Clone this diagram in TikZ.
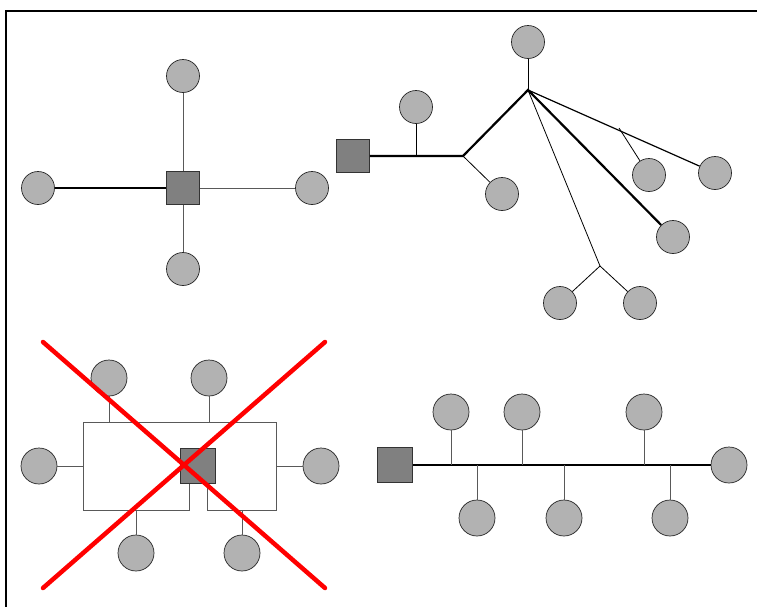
\documentclass[tikz,border=0pt]{standalone}
\begin{document}
\begin{tikzpicture}[x=1pt,y=-1pt,
  pcs/.style={circle,draw=black!85,line width=0.7pt,fill=gray!60,inner sep=0pt,minimum size=33pt},
  pcl/.style={pcs,minimum size=36pt},
  hubs/.style={rectangle,draw=black!80,line width=0.7pt,fill=gray,inner sep=0pt,minimum size=33pt},
  hubl/.style={hubs,minimum size=35pt},
  thin/.style={line width=0.8pt,draw=black!65},
  thinb/.style={line width=0.8pt,draw=black},
  mid/.style={line width=1.2pt,draw=black},
  thick/.style={line width=2.2pt,draw=black},
  cross/.style={line width=4.5pt,draw=red,line cap=round}]
\useasboundingbox (0,0) rectangle (757,606);
\draw[line width=1.6pt] (6,640) -- (6,11) -- (800,11);

% ---- top-left star
\node[hubs] (A) at (183,188) {};
\node[pcs] (A1) at (183,76) {};
\node[pcs] (A2) at (38,188) {};
\node[pcs] (A3) at (312,188) {};
\node[pcs] (A4) at (183,269) {};
\draw[thick] (A2) -- (A);
\draw[thin] (A) -- (A1);
\draw[thin] (A) -- (A3);
\draw[thin] (A) -- (A4);

% ---- top-right tree
\node[hubs] (B) at (353,156) {};
\coordinate (Bj2) at (463,156);
\coordinate (Bh) at (528,90);
\coordinate (Bj3) at (619,128);
\coordinate (Bj4) at (600,266);
\node[pcs] (B1) at (416,107) {};
\node[pcs] (B2) at (502,194) {};
\node[pcs] (B3) at (528,42) {};
\node[pcs] (B4) at (715,173) {};
\node[pcs] (B5) at (649,175) {};
\node[pcs] (B6) at (673,237) {};
\node[pcs] (B7) at (560,303) {};
\node[pcs] (B8) at (640,303) {};
\coordinate (Bj1) at (B1 |- B);
\draw[thick] (B) -- (Bj2) -- (Bh) -- (B6);
\draw[thinb] (Bj1) -- (B1);
\draw[thinb] (Bj2) -- (B2);
\draw[thinb] (Bh) -- (B3);
\draw[mid] (Bh) -- (B4);
\draw[thinb] (Bj3) -- (B5);
\draw[thinb] (Bh) -- (Bj4);
\draw[thinb] (Bj4) -- (B7);
\draw[thinb] (Bj4) -- (B8);

% ---- bottom-left ring
\node[hubl] (C) at (197.5,466) {};
\node[pcl] (C1) at (109,378) {};
\node[pcl] (C2) at (209,378) {};
\node[pcl] (C3) at (39,466) {};
\node[pcl] (C4) at (321,466) {};
\node[pcl] (C5) at (136,553) {};
\node[pcl] (C6) at (242,553) {};
\coordinate (Ca) at (189,483.5);
\coordinate (Cb) at (189,510);
\coordinate (Cc) at (83.5,510);
\coordinate (Cd) at (83.5,422);
\coordinate (Ce) at (276.5,422);
\coordinate (Cf) at (276.5,510);
\coordinate (Cg) at (207,510);
\coordinate (Ch) at (207,483.5);
\draw[thin] (Ca) -- (Cb) -- (Cc) -- (Cd) -- (Ce) -- (Cf) -- (Cg) -- (Ch);
\draw[thin] (C1) -- (C1 |- Cd);
\draw[thin] (C2) -- (C2 |- Cd);
\draw[thin] (C3) -- (C3 -| Cd);
\draw[thin] (C4) -- (C4 -| Ce);
\draw[thin] (C5) -- (C5 |- Cb);
\draw[thin] (C6) -- (C6 |- Cb);
\coordinate (X1) at (43,342);
\coordinate (X2) at (325,588);
\coordinate (X3) at (325,342);
\coordinate (X4) at (43,588);
\draw[cross] (X1) -- (X2);
\draw[cross] (X3) -- (X4);

% ---- bottom-right bus
\node[hubl] (D) at (395,465) {};
\node[pcl] (D0) at (729,465) {};
\node[pcl] (D1) at (451,412) {};
\node[pcl] (D2) at (522,412) {};
\node[pcl] (D3) at (644,412) {};
\node[pcl] (D4) at (477,518) {};
\node[pcl] (D5) at (564,518) {};
\node[pcl] (D6) at (670,518) {};
\draw[thick] (D) -- (D0);
\draw[thin] (D1) -- (D1 |- D);
\draw[thin] (D2) -- (D2 |- D);
\draw[thin] (D3) -- (D3 |- D);
\draw[thin] (D4) -- (D4 |- D);
\draw[thin] (D5) -- (D5 |- D);
\draw[thin] (D6) -- (D6 |- D);
\end{tikzpicture}
\end{document}
